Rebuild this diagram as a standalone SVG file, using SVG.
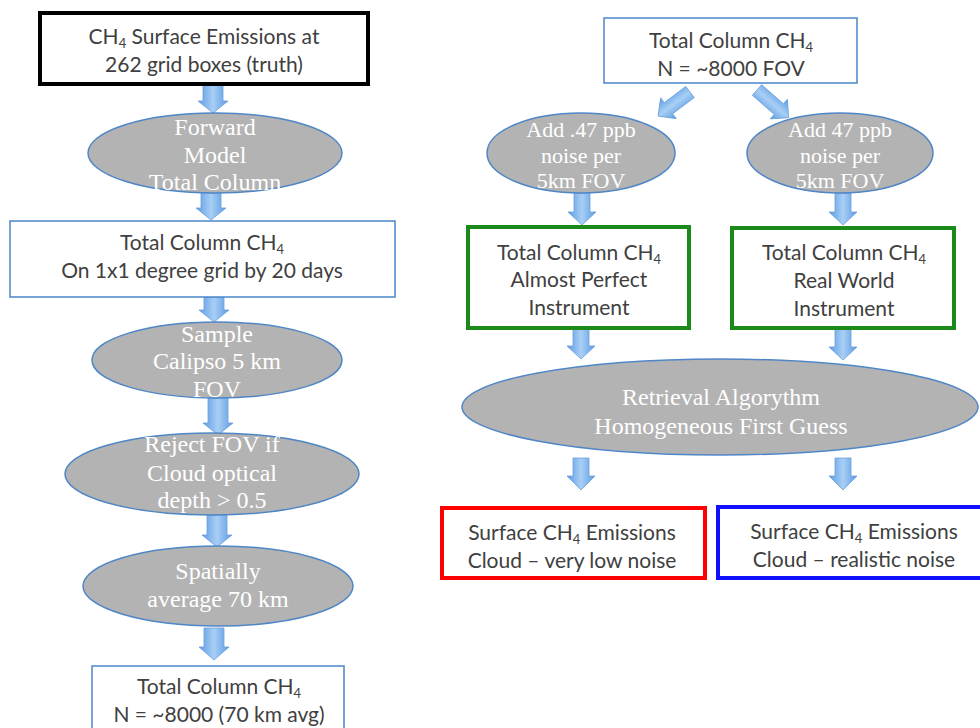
<svg xmlns="http://www.w3.org/2000/svg" width="980" height="728" viewBox="0 0 980 728">
<defs>
<linearGradient id="ag" x1="0" y1="0" x2="1" y2="0">
<stop offset="0" stop-color="#5c9be3"/>
<stop offset="0.5" stop-color="#a8cff5"/>
<stop offset="1" stop-color="#5c9be3"/>
</linearGradient>
</defs>
<style>
.bx{fill:#fff;stroke:#4a86c8;stroke-width:1.5}
.el{fill:#b3b3b3;stroke:#4f86c6;stroke-width:1.5}
.st{font-family:Lato,"Liberation Sans",sans-serif;font-size:21px;fill:#404040;text-anchor:middle}
.sub{font-size:13px}
.se{font-family:"Liberation Serif",serif;font-size:24px;fill:#fff;text-anchor:middle}
.ss{font-family:"Liberation Serif",serif;font-size:22px;fill:#fff;text-anchor:middle}
.ar{fill:url(#ag);stroke:#6aa0dc;stroke-width:0.8}
</style>
<rect width="980" height="728" fill="#fff"/>

<g id="connectors">
<path class="ar" d="M203 84 H223 V101 H228 L213 113 L198 101 H203 Z"/>
<path class="ar" d="M201 193 H221 V208 H226 L211 220 L196 208 H201 Z"/>
<path class="ar" d="M204 297 H224 V310 H229 L214 322 L199 310 H204 Z"/>
<path class="ar" d="M208 398 H228 V423 H233 L218 435 L203 423 H208 Z"/>
<path class="ar" d="M207 515 H227 V535 H232 L217 547 L202 535 H207 Z"/>
<path class="ar" d="M204 628 H224 V647 H229 L214 660 L199 647 H204 Z"/>
<path class="ar" transform="translate(690 92) rotate(53)" d="M-7 0 H7 V27 H13 L0 40 L-13 27 H-7 Z"/>
<path class="ar" transform="translate(757 90) rotate(-48.8)" d="M-7 0 H7 V29 H13 L0 42 L-13 29 H-7 Z"/>
<path class="ar" d="M574 193 H590 V212 H596 L582 225 L568 212 H574 Z"/>
<path class="ar" d="M835 193 H851 V212 H857 L843 225 L829 212 H835 Z"/>
<path class="ar" d="M573 328 H589 V346 H595 L581 359 L567 346 H573 Z"/>
<path class="ar" d="M835 328 H851 V347 H857 L843 360 L829 347 H835 Z"/>
<path class="ar" d="M573 458 H589 V476 H595 L581 490 L567 476 H573 Z"/>
<path class="ar" d="M835 458 H851 V476 H857 L843 490 L829 476 H835 Z"/>
</g>

<g id="n1">
<rect x="40" y="13" width="328" height="71" fill="#fff" stroke="#000" stroke-width="4"/>
<text class="st" x="204" y="44">CH<tspan class="sub" dy="4">4</tspan><tspan dy="-4"> Surface Emissions at</tspan></text>
<text class="st" x="204" y="72">262 grid boxes (truth)</text>
</g>

<g id="n2">
<ellipse class="el" cx="215" cy="153" rx="127" ry="40"/>
<text class="se" x="215" y="135">Forward</text>
<text class="se" x="215" y="163">Model</text>
<text class="se" x="215" y="190">Total Column</text>
</g>

<g id="n3">
<rect class="bx" x="10" y="221" width="385" height="76"/>
<text class="st" x="202" y="250">Total Column CH<tspan class="sub" dy="4">4</tspan></text>
<text class="st" x="202" y="278">On 1x1 degree grid by 20 days</text>
</g>

<g id="n4">
<ellipse class="el" cx="217" cy="360" rx="125" ry="38"/>
<text class="se" x="217" y="342">Sample</text>
<text class="se" x="217" y="369">Calipso 5 km</text>
<text class="se" x="217" y="397">FOV</text>
</g>

<g id="n5">
<ellipse class="el" cx="212" cy="474" rx="147" ry="41"/>
<text class="se" x="212" y="452">Reject FOV if</text>
<text class="se" x="212" y="481">Cloud optical</text>
<text class="se" x="212" y="508">depth &gt; 0.5</text>
</g>

<g id="n6">
<ellipse class="el" cx="218" cy="586" rx="135" ry="40"/>
<text class="se" x="218" y="579">Spatially</text>
<text class="se" x="218" y="607">average 70 km</text>
</g>

<g id="n7">
<rect class="bx" x="92" y="666" width="252" height="80"/>
<text class="st" x="219" y="694">Total Column CH<tspan class="sub" dy="4">4</tspan></text>
<text class="st" x="219" y="722">N = ~8000 (70 km avg)</text>
</g>

<g id="n8">
<rect class="bx" x="604" y="18" width="253" height="65"/>
<text class="st" x="731" y="48">Total Column CH<tspan class="sub" dy="4">4</tspan></text>
<text class="st" x="731" y="76">N = ~8000 FOV</text>
</g>

<g id="n9">
<ellipse class="el" cx="581" cy="153" rx="94" ry="40"/>
<text class="ss" x="581" y="137">Add .47 ppb</text>
<text class="ss" x="581" y="163">noise per</text>
<text class="ss" x="581" y="188">5km FOV</text>
</g>

<g id="n10">
<ellipse class="el" cx="840" cy="153" rx="93" ry="40"/>
<text class="ss" x="840" y="137">Add 47 ppb</text>
<text class="ss" x="840" y="163">noise per</text>
<text class="ss" x="840" y="188">5km FOV</text>
</g>

<g id="n11">
<rect x="468" y="227" width="221" height="101" fill="#fff" stroke="#1b8a1b" stroke-width="4"/>
<text class="st" x="579" y="260">Total Column CH<tspan class="sub" dy="4">4</tspan></text>
<text class="st" x="579" y="287">Almost Perfect</text>
<text class="st" x="579" y="315">Instrument</text>
</g>

<g id="n12">
<rect x="732" y="228" width="222" height="100" fill="#fff" stroke="#1b8a1b" stroke-width="4"/>
<text class="st" x="844" y="260">Total Column CH<tspan class="sub" dy="4">4</tspan></text>
<text class="st" x="844" y="288">Real World</text>
<text class="st" x="844" y="316">Instrument</text>
</g>

<g id="n13">
<ellipse class="el" cx="720" cy="407" rx="258" ry="48"/>
<text class="se" x="721" y="405">Retrieval Algorythm</text>
<text class="se" x="721" y="434">Homogeneous First Guess</text>
</g>

<g id="n14">
<rect x="442" y="508" width="263" height="70" fill="#fff" stroke="#ff0000" stroke-width="4"/>
<text class="st" x="572" y="540">Surface CH<tspan class="sub" dy="4">4</tspan><tspan dy="-4"> Emissions</tspan></text>
<text class="st" x="572" y="568">Cloud – very low noise</text>
</g>

<g id="n15">
<rect x="718" y="507" width="270" height="71" fill="#fff" stroke="#1010ff" stroke-width="4"/>
<text class="st" x="854" y="539">Surface CH<tspan class="sub" dy="4">4</tspan><tspan dy="-4"> Emissions</tspan></text>
<text class="st" x="854" y="567">Cloud – realistic noise</text>
</g>
</svg>
